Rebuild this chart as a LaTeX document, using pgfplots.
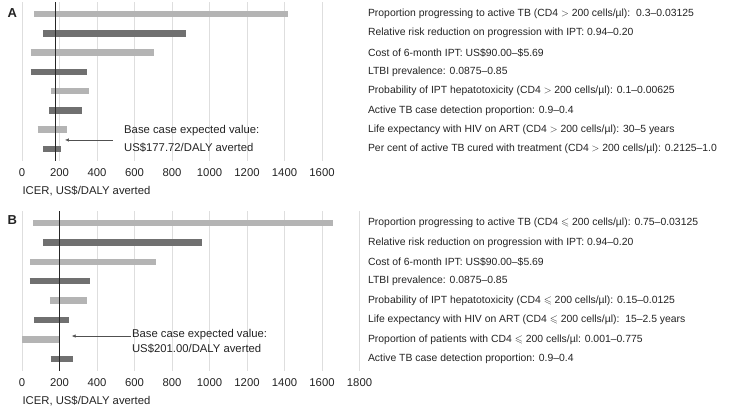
\documentclass[border=0pt]{standalone}
\usepackage{amssymb}
\usepackage{fontspec}
\setmainfont{Liberation Sans}
\usepackage{pgfplots}
\pgfplotsset{compat=1.18}
\usetikzlibrary{arrows.meta}

\definecolor{barlight}{RGB}{180,180,180}
\definecolor{bardark}{RGB}{112,112,112}
\definecolor{gridgray}{RGB}{222,222,222}
\definecolor{txt}{RGB}{35,35,35}
\definecolor{arrowgray}{RGB}{80,80,80}

\newcommand{\fs}{\fontsize{10.4}{12}\selectfont}
\newcommand{\fl}{\fontsize{11.3}{13}\selectfont}

\pgfplotsset{tornado/.style={
  scale only axis,
  y dir=reverse, ymin=0.4, ymax=8.6, xmin=0,
  axis line style={draw=none},
  major tick length=0pt,
  xmajorgrids, grid style={gridgray, line width=0.6pt},
  xtick distance=200,
  ytick={1,...,8},
  yticklabel pos=right,
  yticklabel style={anchor=west, font=\fs, text=txt},
  xticklabel style={font=\fl, text=txt, yshift=-4pt},
  /pgf/number format/assume math mode=true,
  /pgf/number format/1000 sep={},
  xlabel={ICER, US\$/DALY averted},
  xlabel style={at={(axis description cs:0,0)}, anchor=west, xshift=-3pt, yshift=-30pt, font=\fl, text=txt},
  clip=false,
  every axis plot/.append style={line cap=butt},
}}

\begin{document}
\begin{tikzpicture}
\useasboundingbox (0,0) rectangle (754pt,-411pt);

% panel A
\node[anchor=west, font=\bfseries\fontsize{13}{13}\selectfont, text=txt] at (4pt,-12.7pt) {A};
\begin{axis}[tornado,
  at={(22pt,-2.4pt)}, anchor=north west,
  width=300pt, height=158.2pt, xmax=1600,
  yticklabel style={xshift=42.5pt},
  yticklabels={
    {Proportion progressing to active TB (CD4 $>$ 200 cells/µl):\ \ 0.3–0.03125},
    {Relative risk reduction on progression with IPT: 0.94–0.20},
    {Cost of 6-month IPT: US\$90.00–\$5.69},
    {LTBI prevalence: 0.0875–0.85},
    {Probability of IPT hepatotoxicity (CD4 $>$ 200 cells/µl): 0.1–0.00625},
    {Active TB case detection proportion: 0.9–0.4},
    {Life expectancy with HIV on ART (CD4 $>$ 200 cells/µl): 30–5 years},
    {Per cent of active TB cured with treatment (CD4 $>$ 200 cells/µl): 0.2125–1.0}}]
\addplot[barlight, line width=6.5pt] coordinates {(64,1) (1420,1)};
\addplot[bardark,  line width=6.5pt] coordinates {(114,2) (875,2)};
\addplot[barlight, line width=6.5pt] coordinates {(46,3) (702,3)};
\addplot[bardark,  line width=6.5pt] coordinates {(46,4) (349,4)};
\addplot[barlight, line width=6.5pt] coordinates {(157,5) (359,5)};
\addplot[bardark,  line width=6.5pt] coordinates {(144,6) (318,6)};
\addplot[barlight, line width=6.5pt] coordinates {(83,7) (240,7)};
\addplot[bardark,  line width=6.5pt] coordinates {(114,8) (208,8)};
\addplot[black!85, line width=0.8pt] coordinates {(177.72,0.4) (177.72,8.6)};
\draw[arrowgray, line width=0.6pt, -{Latex[length=4pt,width=3.5pt]}] (axis cs:485,7.53) -- (axis cs:229,7.53);
\node[anchor=west, font=\fl, text=txt, inner sep=0pt] at (axis cs:544,7.07) {Base case expected value:};
\node[anchor=west, font=\fl, text=txt, inner sep=0pt] at (axis cs:544,7.95) {US\$177.72/DALY averted};
\end{axis}

% panel B
\node[anchor=west, font=\bfseries\fontsize{13}{13}\selectfont, text=txt] at (4pt,-220pt) {B};
\begin{axis}[tornado,
  at={(22pt,-211.3pt)}, anchor=north west,
  width=337.5pt, height=159.3pt, xmax=1800,
  yticklabel style={xshift=5pt},
  yticklabels={
    {Proportion progressing to active TB (CD4 $\leqslant$ 200 cells/µl): 0.75–0.03125},
    {Relative risk reduction on progression with IPT: 0.94–0.20},
    {Cost of 6-month IPT: US\$90.00–\$5.69},
    {LTBI prevalence: 0.0875–0.85},
    {Probability of IPT hepatotoxicity (CD4 $\leqslant$ 200 cells/µl): 0.15–0.0125},
    {Life expectancy with HIV on ART (CD4 $\leqslant$ 200 cells/µl):\ \ 15–2.5 years},
    {Proportion of patients with CD4 $\leqslant$ 200 cells/µl: 0.001–0.775},
    {Active TB case detection proportion: 0.9–0.4}}]
\addplot[barlight, line width=6.5pt] coordinates {(59,1) (1659,1)};
\addplot[bardark,  line width=6.5pt] coordinates {(111,2) (961,2)};
\addplot[barlight, line width=6.5pt] coordinates {(45,3) (712,3)};
\addplot[bardark,  line width=6.5pt] coordinates {(41,4) (363,4)};
\addplot[barlight, line width=6.5pt] coordinates {(148,5) (346,5)};
\addplot[bardark,  line width=6.5pt] coordinates {(66,6) (252,6)};
\addplot[barlight, line width=6.5pt] coordinates {(2,7) (200,7)};
\addplot[bardark,  line width=6.5pt] coordinates {(152,8) (271,8)};
\addplot[black!85, line width=0.8pt] coordinates {(201,0.4) (201,8.6)};
\draw[arrowgray, line width=0.6pt, -{Latex[length=4pt,width=3.5pt]}] (axis cs:580,6.82) -- (axis cs:265,6.82);
\node[anchor=west, font=\fl, text=txt, inner sep=0pt] at (axis cs:586,6.76) {Base case expected value:};
\node[anchor=west, font=\fl, text=txt, inner sep=0pt] at (axis cs:586,7.45) {US\$201.00/DALY averted};
\end{axis}
\end{tikzpicture}
\end{document}
